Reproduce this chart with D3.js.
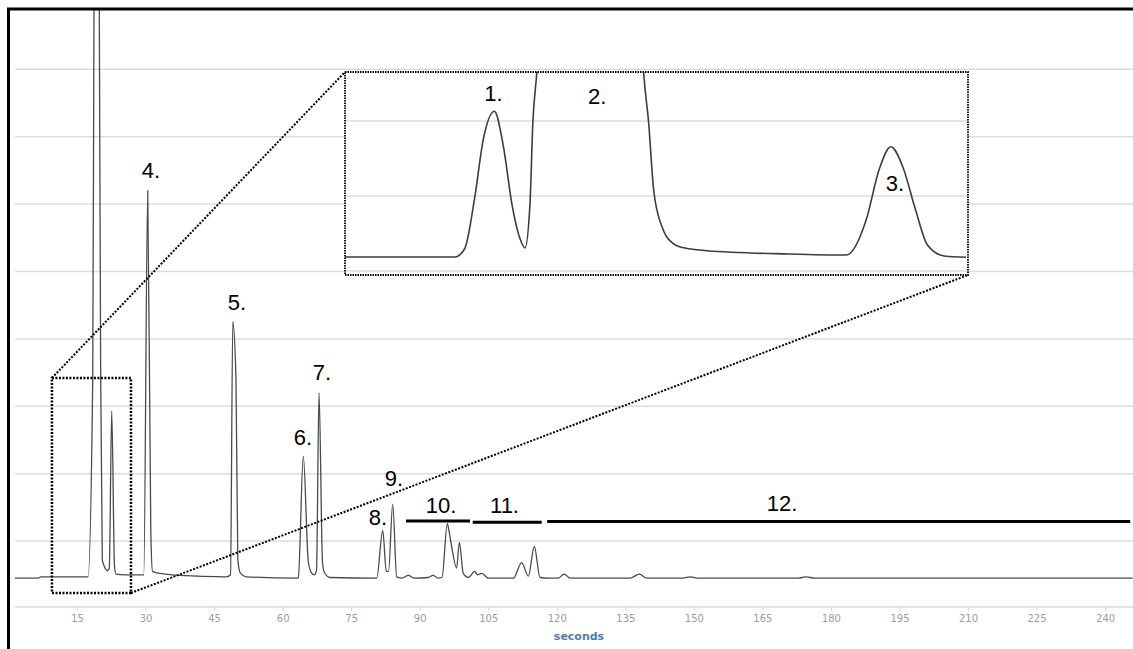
<!DOCTYPE html>
<html>
<head>
<meta charset="utf-8">
<script src="https://d3js.org/d3.v7.min.js"></script>
<style>
  body { margin: 0; background: #fff; }
  .grid line { stroke: #dcdcdc; stroke-width: 1.5; }
  .x-axis path { display: none; }
  .x-axis line { stroke: #d2d6df; }
  .x-axis text { fill: #9c9c9c; font-family: "DejaVu Sans", sans-serif; font-size: 10px; }
  .x-label { fill: #4f7cab; font-family: "DejaVu Sans", sans-serif; font-size: 11px; font-weight: bold; }
  .peak-label { fill: #000; font-family: "Liberation Sans", Arial, sans-serif; font-size: 22px; text-anchor: middle; }
  .trace { fill: none; stroke: #4a4a4a; stroke-width: 1.3; }
  .inset-trace { fill: none; stroke: #3c3c3c; stroke-width: 1.6; }
  .dotted { fill: none; stroke: #000; }
</style>
</head>
<body>
<div id="chart-area"></div>
<script>

// chromatogram: [retention time (s), detector response]
var mainTrace = [
  [1.4, 0.45], [6.5, 0.45], [7.1, 0.47], [17.4, 0.47], [18.43, 3.39], [18.71, 8.91],
  [19.28, 15.0], [19.87, 8.91], [20.18, 3.39], [20.53, 0.72], [21.01, 0.62], [21.62, 0.56],
  [22.06, 0.60], [22.59, 2.93], [23.2, 0.63], [23.53, 0.51], [25.5, 0.50], [29.61, 0.50],
  [30.47, 6.20], [31.14, 1.16], [31.52, 0.55], [33.16, 0.52], [37.53, 0.49], [47.76, 0.47],
  [48.59, 0.50], [49.09, 4.26], [49.79, 3.39], [50.19, 0.72], [50.78, 0.52], [51.98, 0.47],
  [63.14, 0.45], [63.43, 0.46], [64.52, 2.26], [65.62, 0.69], [66.32, 0.53], [66.93, 0.50],
  [67.41, 0.57], [67.96, 3.20], [68.72, 0.69], [69.16, 0.53], [70.36, 0.46], [80.59, 0.45],
  [81.9, 1.16], [82.69, 0.55], [83.17, 0.55], [84.09, 1.55], [84.96, 0.47], [86.12, 0.45],
  [87.5, 0.49], [88.75, 0.45], [91.81, 0.46], [92.91, 0.49], [94.0, 0.45], [94.88, 0.46],
  [96.04, 1.26], [96.41, 1.15], [96.98, 0.92], [98.08, 0.60], [98.67, 0.98], [99.54, 0.52],
  [100.63, 0.46], [102.09, 0.55], [102.6, 0.50], [103.57, 0.52], [105.01, 0.45], [110.48, 0.45],
  [112.32, 0.68], [113.77, 0.48], [115.08, 0.92], [116.33, 0.46], [118.08, 0.45], [120.27, 0.45],
  [121.65, 0.51], [122.89, 0.45], [136.03, 0.45], [138.06, 0.51], [139.75, 0.45], [147.62, 0.45],
  [149.15, 0.47], [150.69, 0.45], [172.79, 0.45], [174.54, 0.47], [176.52, 0.45], [246, 0.45]
];

// zoomed view of the first peaks
var insetTrace = [
  [17.0, 0.187], [18.11, 0.187], [18.21, 0.297], [18.31, 0.964], [18.40, 1.764], [18.51, 2.13],
  [18.60, 1.676], [18.69, 0.876], [18.77, 0.431], [18.82, 0.307], [18.87, 0.88], [18.90, 1.987],
  [18.94, 2.653], [19.0, 4.0], [19.45, 6.0], [19.97, 4.0], [20.02, 2.653], [20.07, 1.987],
  [20.12, 1.097], [20.20, 0.609], [20.32, 0.364], [20.39, 0.32], [20.66, 0.271], [21.49, 0.227],
  [22.07, 0.213], [22.27, 0.68], [22.40, 1.347], [22.52, 1.657], [22.64, 1.39], [22.77, 0.813],
  [22.89, 0.347], [23.06, 0.20], [23.28, 0.183]
];

var xTicks = [15, 30, 45, 60, 75, 90, 105, 120, 135, 150, 165, 180, 195, 210, 225, 240];
var gridLevels = [1, 2, 3, 4, 5, 6, 7, 8];
var insetGridLevels = [0, 1, 2];

// peak numbers: [name, time, height of label]
var peakLabels = [
  ["4.", 31.19, 6.39], ["5.", 50.01, 4.43], ["6.", 64.46, 2.43], ["7.", 68.62, 3.39],
  ["8.", 80.87, 1.24], ["9.", 84.37, 1.82], ["10.", 94.66, 1.41], ["11.", 108.56, 1.42],
  ["12.", 169.29, 1.45]
];
var insetLabels = [["1.", 18.50, 2.273], ["2.", 19.55, 2.227], ["3.", 22.56, 1.067]];

// grouped elution ranges: [start, end, level]
var groupRanges = [[87.0, 101.0, 1.30], [101.6, 116.7, 1.28], [117.9, 245.5, 1.29]];

// zoom window on the main trace: [t0, t1, v0, v1]
var zoomWindow = [9.5, 26.8, 0.23, 3.42];
var insetDomain = [17.0, 23.3];

var Chromatogram = function(_parentElement) {
  this.parentElement = _parentElement;
  this.initVis();
};

Chromatogram.prototype.initVis = function() {
  var vis = this;

  vis.width = 1133;
  vis.height = 649;
  vis.plotLeft = 15;
  vis.axisY = 607;

  vis.svg = d3.select(vis.parentElement).append("svg")
    .attr("width", vis.width)
    .attr("height", vis.height);

  vis.x = d3.scaleLinear().domain([0, 246]).range([8.5, 1132.5]);
  vis.y = d3.scaleLinear().domain([0, 9]).range([608.5, 1.9]);

  // inset box
  vis.inset = { left: 345, right: 968, top: 72, bottom: 275 };
  vis.xIn = d3.scaleLinear().domain(insetDomain).range([vis.inset.left, vis.inset.right]);
  vis.yIn = d3.scaleLinear().domain([0, 1]).range([271, 196]);

  var defs = vis.svg.append("defs");
  defs.append("clipPath").attr("id", "clip-main")
    .append("rect").attr("x", 10).attr("y", 10).attr("width", vis.width).attr("height", vis.height);
  defs.append("clipPath").attr("id", "clip-inset")
    .append("rect")
    .attr("x", vis.inset.left).attr("y", vis.inset.top)
    .attr("width", vis.inset.right - vis.inset.left)
    .attr("height", vis.inset.bottom - vis.inset.top);

  vis.updateVis();
};

Chromatogram.prototype.updateVis = function() {
  var vis = this;

  // gridlines
  vis.svg.append("g").attr("class", "grid")
    .selectAll("line")
    .data(gridLevels)
    .enter().append("line")
    .attr("x1", vis.plotLeft).attr("x2", vis.width)
    .attr("y1", function(d) { return vis.y(d); })
    .attr("y2", function(d) { return vis.y(d); });

  // x axis
  vis.svg.append("line")
    .attr("x1", vis.plotLeft).attr("x2", vis.width)
    .attr("y1", vis.axisY).attr("y2", vis.axisY)
    .attr("stroke", "#c6ccd8").attr("stroke-width", 1.2);

  vis.xAxis = d3.axisBottom(vis.x)
    .tickValues(xTicks)
    .tickSize(4)
    .tickSizeOuter(0)
    .tickPadding(4);

  vis.svg.append("g")
    .attr("class", "x-axis")
    .attr("transform", "translate(0," + vis.axisY + ")")
    .call(vis.xAxis);

  vis.svg.append("text")
    .attr("class", "x-label")
    .attr("text-anchor", "middle")
    .attr("x", 579).attr("y", 640)
    .text("seconds");

  // trace
  var line = d3.line()
    .x(function(d) { return vis.x(d[0]); })
    .y(function(d) { return vis.y(d[1]); })
    .curve(d3.curveMonotoneX);

  vis.svg.append("path")
    .datum(mainTrace)
    .attr("class", "trace")
    .attr("clip-path", "url(#clip-main)")
    .attr("d", line);

  // zoom window and leader lines
  var zx0 = vis.x(zoomWindow[0]), zx1 = vis.x(zoomWindow[1]);
  var zy0 = vis.y(zoomWindow[2]), zy1 = vis.y(zoomWindow[3]);

  vis.svg.append("rect")
    .attr("class", "dotted")
    .attr("x", zx0).attr("y", zy1)
    .attr("width", zx1 - zx0).attr("height", zy0 - zy1)
    .attr("stroke-width", 2.5)
    .attr("stroke-dasharray", "2,1.5");

  vis.svg.append("line")
    .attr("class", "dotted")
    .attr("x1", zx0).attr("y1", zy1)
    .attr("x2", vis.inset.left).attr("y2", vis.inset.top)
    .attr("stroke-width", 2)
    .attr("stroke-dasharray", "2,1.5");

  vis.svg.append("line")
    .attr("class", "dotted")
    .attr("x1", zx1).attr("y1", zy0)
    .attr("x2", vis.inset.right).attr("y2", vis.inset.bottom)
    .attr("stroke-width", 2)
    .attr("stroke-dasharray", "2,1.5");

  // inset
  var inset = vis.svg.append("g").attr("class", "inset");

  inset.append("rect")
    .attr("x", vis.inset.left).attr("y", vis.inset.top)
    .attr("width", vis.inset.right - vis.inset.left)
    .attr("height", vis.inset.bottom - vis.inset.top)
    .attr("fill", "#fff");

  inset.append("g").attr("class", "grid")
    .selectAll("line")
    .data(insetGridLevels)
    .enter().append("line")
    .attr("x1", vis.inset.left).attr("x2", vis.inset.right)
    .attr("y1", function(d) { return vis.yIn(d); })
    .attr("y2", function(d) { return vis.yIn(d); });

  var insetLine = d3.line()
    .x(function(d) { return vis.xIn(d[0]); })
    .y(function(d) { return vis.yIn(d[1]); })
    .curve(d3.curveMonotoneX);

  inset.append("path")
    .datum(insetTrace)
    .attr("class", "inset-trace")
    .attr("clip-path", "url(#clip-inset)")
    .attr("d", insetLine);

  inset.append("rect")
    .attr("class", "dotted")
    .attr("x", vis.inset.left).attr("y", vis.inset.top)
    .attr("width", vis.inset.right - vis.inset.left)
    .attr("height", vis.inset.bottom - vis.inset.top)
    .attr("stroke-width", 1.8)
    .attr("stroke-dasharray", "1.5,1");

  inset.selectAll(".peak-label")
    .data(insetLabels)
    .enter().append("text")
    .attr("class", "peak-label")
    .attr("x", function(d) { return vis.xIn(d[1]); })
    .attr("y", function(d) { return vis.yIn(d[2]); })
    .text(function(d) { return d[0]; });

  // peak numbers
  vis.svg.append("g").selectAll("text")
    .data(peakLabels)
    .enter().append("text")
    .attr("class", "peak-label")
    .attr("x", function(d) { return vis.x(d[1]); })
    .attr("y", function(d) { return vis.y(d[2]); })
    .text(function(d) { return d[0]; });

  // elution range bars
  vis.svg.append("g").selectAll("line")
    .data(groupRanges)
    .enter().append("line")
    .attr("x1", function(d) { return vis.x(d[0]); })
    .attr("x2", function(d) { return vis.x(d[1]); })
    .attr("y1", function(d) { return vis.y(d[2]); })
    .attr("y2", function(d) { return vis.y(d[2]); })
    .attr("stroke", "#000")
    .attr("stroke-width", 3);

  // frame
  vis.svg.append("path")
    .attr("d", "M8.5," + vis.height + "V9H" + vis.width)
    .attr("fill", "none")
    .attr("stroke", "#000")
    .attr("stroke-width", 3);
};

var chart = new Chromatogram("#chart-area");

</script>
</body>
</html>
